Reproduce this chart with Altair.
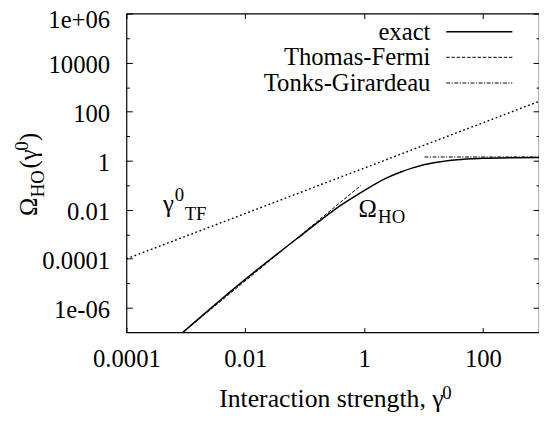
import math
import altair as alt
import pandas as pd

# ---------------- data ----------------
EXACT_X = [8.9e-4, 9.3e-3, 0.1, 0.316, 1.0, 1.58, 2.51, 4.27, 6.61, 10.5, 20, 37, 100, 316, 880]
EXACT_Y = [1e-7, 1.26e-5, 1.17e-3, 0.01, 0.060, 0.117, 0.209, 0.355, 0.51, 0.70, 0.92, 1.10, 1.25, 1.33, 1.36]
TF_X = [8.9e-4, 0.89]
TF_Y = [1e-7, 0.1]
GTF_X = [1e-4, 880]
GTF_Y = [1e-4, 263]
TG_X = [10.4, 880]
TG_Y = [1.42, 1.42]

SERIES = ["exact", "Thomas-Fermi", "Tonks-Girardeau"]

X_TICKS = [1e-4, 1e-2, 1, 100]
X_LABELS = ["0.0001", "0.01", "1", "100"]
Y_TICKS = [1e-6, 1e-4, 1e-2, 1, 100, 1e4, 1e6]
Y_LABELS = ["1e-06", "0.0001", "0.01", "1", "100", "10000", "1e+06"]
Y_MINOR = [1e-5, 1e-3, 0.1, 10, 1000, 1e5]

X_DOMAIN = [1e-4, 880]
Y_DOMAIN = [1e-7, 1e6]

FONT = "Liberation Serif"
W, H = 418, 323


def label_expr(ticks, labels):
    expr = "''"
    for t, l in zip(ticks, labels):
        e = round(math.log10(t))
        expr = f"round(log(datum.value)/LN10) == {e} ? '{l}' : (" + expr + ")"
    return expr


xs = alt.Scale(type="log", domain=X_DOMAIN, nice=False)
ys = alt.Scale(type="log", domain=Y_DOMAIN, nice=False)

label_x = alt.Axis(values=X_TICKS, labelExpr=label_expr(X_TICKS, X_LABELS), ticks=False, tickSize=0,
                   domain=False, grid=False, labelFont=FONT, labelFontSize=25, labelColor="black",
                   labelPadding=15, labelFlush=False, labelOverlap=False, title=None, orient="bottom")
label_y = alt.Axis(values=Y_TICKS, labelExpr=label_expr(Y_TICKS, Y_LABELS), ticks=False, tickSize=0,
                   domain=False, grid=False, labelFont=FONT, labelFontSize=25, labelColor="black",
                   labelPadding=17, labelOverlap=False, title=None, orient="left",
                   labelOffset={"condition": {"test": "datum.value > 1e5", "value": 6}, "value": 1.5})


def tick_axis(values, orient, offset, size):
    return alt.Axis(values=values, labels=False, domain=False, grid=False, ticks=True, tickSize=size,
                    tickColor="black", tickWidth=1, title=None, orient=orient, offset=offset)


def df(xv, yv):
    return pd.DataFrame({"x": xv, "y": yv})


def line(data, xaxis, yaxis, width=1.5, dash=None, opacity=1.0, interp="linear"):
    kw = dict(color="black", strokeWidth=width, clip=True, interpolate=interp, opacity=opacity)
    if dash:
        kw["strokeDash"] = dash
    return alt.Chart(data).mark_line(**kw).encode(
        x=alt.X("x:Q", scale=xs, axis=xaxis),
        y=alt.Y("y:Q", scale=ys, axis=yaxis),
    )


exact = line(df(EXACT_X, EXACT_Y), label_x, label_y, width=1.5, interp="monotone")
tf = line(df(TF_X, TF_Y), tick_axis(X_TICKS, "top", -H, 5), tick_axis(Y_TICKS, "right", -W, 6),
          width=1.0, dash=[3.5, 1.8])
gtf = line(df(GTF_X, GTF_Y), tick_axis(X_TICKS, "bottom", -H, 5), tick_axis(Y_TICKS, "left", -W, 6),
           width=1.4, dash=[1.8, 2.6])
tg = line(df(TG_X, TG_Y), None, tick_axis(Y_MINOR, "right", -W, 3), width=1.0, dash=[4, 1.5, 1.2, 1.5])
ghost = line(df(TG_X, TG_Y), None, tick_axis(Y_MINOR, "left", -W, 3), width=1.0, opacity=0.0)


def txt(s, x, y, size=25, angle=0, align="left"):
    kw = dict(font=FONT, fontSize=size, color="black", align=align, baseline="alphabetic")
    if angle:
        kw["angle"] = angle
    return alt.Chart(alt.Data(values=[{"t": s}])).mark_text(**kw).encode(
        text="t:N", x=alt.value(x), y=alt.value(y))


def sample(y, width, dash=None):
    kw = dict(color="black", strokeWidth=width)
    if dash:
        kw["strokeDash"] = dash
    return alt.Chart(alt.Data(values=[{"a": 1}])).mark_rule(**kw).encode(
        x=alt.value(324), x2=alt.value(391), y=alt.value(y))


legend = [
    txt(SERIES[0], 308, 26.5, align="right"), sample(18.3, 1.5),
    txt(SERIES[1], 308, 52.5, align="right"), sample(44.3, 1.0, [3.5, 1.8]),
    txt(SERIES[2], 308, 78.5, align="right"), sample(70.3, 1.0, [4, 1.5, 1.2, 1.5]),
]

annotations = [
    # gamma^0_TF
    txt("γ", 37, 201), txt("0", 49, 190, size=19), txt("TF", 59, 209, size=19),
    # Omega_HO
    txt("Ω", 235, 206), txt("HO", 255, 212, size=19),
    # x title
    txt("Interaction strength, γ", 94, 399, size=26), txt("0", 320, 390, size=19),
    # y title (rotated)
    txt("Ω", -91, 205, angle=270), txt("HO", -84, 186, size=19, angle=270),
    txt("(γ", -91, 157, angle=270), txt("0", -100, 139, size=19, angle=270),
    txt(")", -91, 129, angle=270),
]

chart = alt.layer(exact, tf, gtf, tg, ghost, *legend, *annotations).resolve_axis(
    x="independent", y="independent"
).properties(
    width=W, height=H,
    padding={"left": 120, "top": 3, "right": 0, "bottom": 80},
    autosize=alt.AutoSizeParams(type="none"),
    background="white",
).configure_view(stroke="black", strokeWidth=1.2)

chart.save("out.html", embed_options={"renderer": "svg", "actions": False})
